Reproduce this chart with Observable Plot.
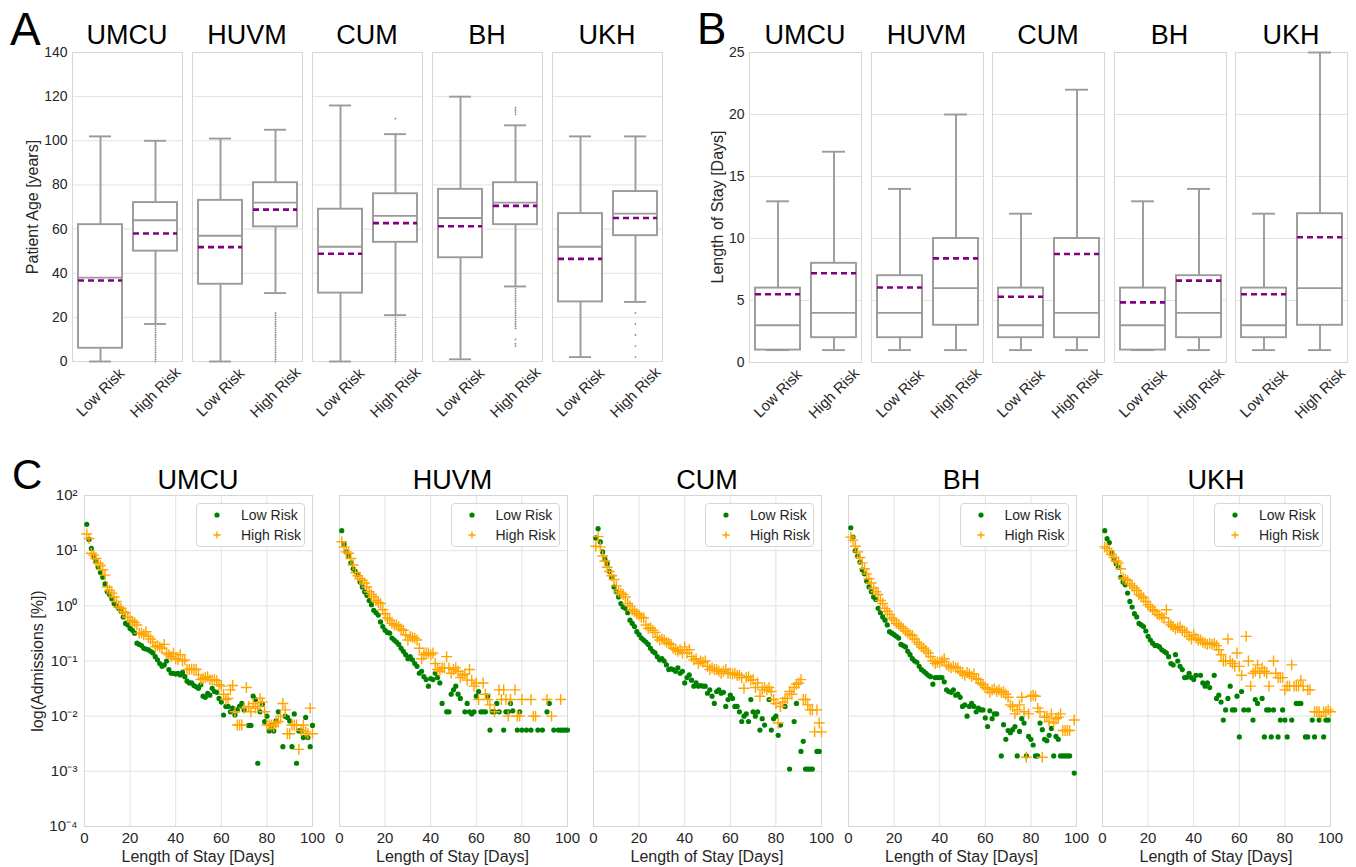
<!DOCTYPE html>
<html>
<head>
<meta charset="utf-8">
<script src="https://cdn.jsdelivr.net/npm/d3@7"></script>
<script src="https://cdn.jsdelivr.net/npm/@observablehq/plot@0.6"></script>
<style>
  html, body { margin: 0; padding: 0; background: #fff; }
  #fig { position: relative; width: 1356px; height: 867px; overflow: hidden; background: #fff;
         font-family: "Liberation Sans", Arial, Helvetica, sans-serif; }
  .lg { position: absolute; box-sizing: border-box; border: 1px solid #d6d6d6; border-radius: 4px;
        background: rgba(255,255,255,0.85); font-size: 14px; color: #262626; }
  .lg .row { position: absolute; left: 0; height: 18px; line-height: 18px; white-space: nowrap; }
  .lg svg { position: absolute; top: 0; }
</style>
</head>
<body>
<div id="fig"></div>
<script>
// ------------------------------------------------------------------ data
const sites = ["UMCU", "HUVM", "CUM", "BH", "UKH"];
const risks = ["Low Risk", "High Risk"];

// Panel A: Patient Age [years]; per site: [Low Risk, High Risk]
const ageWhiskerLow  = [[0, 17], [0, 31], [0, 21], [1, 34], [2, 27]];
const ageQ1          = [[6, 50], [35, 61], [31, 54], [47, 62], [27, 57]];
const ageMedian      = [[38, 64], [57, 72], [52, 66], [65, 72], [52, 67]];
const ageMean        = [[36.7, 58], [51.8, 68.8], [48.8, 62.7], [61.3, 70.5], [46.5, 65]];
const ageQ3          = [[62, 72], [73, 81], [69, 76], [78, 81], [67, 77]];
const ageWhiskerHigh = [[102, 100], [101, 105], [116, 103], [120, 107], [102, 102]];
// outliers of the High Risk group
const ageOutliersHigh = [
  [0, 1, 2, 3, 4, 5, 6, 7, 8, 9, 10, 11, 12, 13, 14, 15, 16],
  [0, 1, 2, 3, 4, 5, 6, 7, 8, 9, 10, 11, 12, 13, 14, 15, 16, 17, 18, 19, 20, 21, 22],
  [0, 1, 2, 3, 4, 5, 6, 7, 8, 9, 10, 11, 12, 13, 14, 15, 16, 17, 18, 19, 20, 110],
  [7, 8, 10, 15, 16, 17, 18, 19, 20, 21, 22, 23, 24, 25, 26, 27, 28, 29, 30, 31, 32, 33, 112, 113, 114, 115],
  [2, 7, 12, 17, 22]
];
const ageTicks = [0, 20, 40, 60, 80, 100, 120, 140];

// Panel B: Length of Stay [Days]; per site: [Low Risk, High Risk]
const losWhiskerLow  = [[1, 1], [1, 1], [1, 1], [1, 1], [1, 1]];
const losQ1          = [[1, 2], [2, 3], [2, 2], [1, 2], [2, 3]];
const losMedian      = [[3, 4], [4, 6], [3, 4], [3, 4], [3, 6]];
const losMean        = [[5.5, 7.2], [6.05, 8.4], [5.3, 8.75], [4.85, 6.6], [5.5, 10.1]];
const losQ3          = [[6, 8], [7, 10], [6, 10], [6, 7], [6, 12]];
const losWhiskerHigh = [[13, 17], [14, 20], [12, 22], [13, 14], [12, 25]];
const losTicks = [0, 5, 10, 15, 20, 25];

// Panel C: Admissions [%] by length of stay, day 1..100 (null = no point)
const admLowUMCU = [
  30, 16, 11, 7.7, 6.3, 5.0, 4.0, 3.3, 2.5, 1.8,
  1.6, 1.35, 1.1, 1.0, 0.9, 0.8, 0.63, 0.48, 0.45, 0.39,
  0.36, 0.32, 0.21, 0.2, 0.19, 0.17, 0.165, 0.16, 0.15, 0.14,
  0.12, 0.105, 0.09, 0.08, 0.085, 0.1, 0.07, 0.06, 0.06, 0.058,
  0.06, 0.056, 0.062, 0.052, 0.043, 0.04, 0.04, 0.036, 0.034, 0.032,
  0.037, 0.023, 0.022, 0.026, 0.024, 0.032, 0.028, 0.027, 0.021, 0.018,
  0.0105, 0.015, 0.015, 0.012, 0.014, 0.0105, 0.013, 0.015, 0.017, 0.013,
  null, 0.0068, 0.0068, 0.023, 0.02, 0.0014, 0.012, 0.0165, 0.008, 0.01,
  0.0054, 0.0068, 0.0054, 0.0082, 0.012, null, 0.0028, 0.01, 0.0095, 0.0082,
  0.0028, 0.011, 0.0014, 0.0054, 0.0054, 0.0041, 0.0095, 0.0041, 0.0028, 0.0068
];
const admHighUMCU = [
  20, 16.6, 9, 8.3, 7.2, 5.9, 5.4, 4.5, 3.6, 2.2,
  1.9, 1.7, 1.45, 1.2, 0.95, 0.9, 0.78, 0.74, 0.62, 0.55,
  0.52, 0.5, 0.45, 0.32, 0.32, 0.3, 0.34, 0.28, 0.25, 0.22,
  0.18, 0.19, 0.18, 0.17, 0.2, 0.14, 0.13, 0.12, 0.14, 0.11,
  0.105, 0.13, 0.1, 0.105, 0.07, 0.07, 0.072, 0.07, 0.071, 0.056,
  0.046, 0.048, 0.05, 0.052, 0.046, 0.045, 0.046, 0.044, 0.037, 0.035,
  0.025, 0.02, 0.021, 0.03, 0.036, 0.012, 0.0069, 0.0069, 0.0069, 0.014,
  0.033, 0.015, 0.012, 0.017, 0.014, 0.015, 0.021, 0.018, 0.012, 0.0069,
  0.0069, 0.0069, 0.0065, 0.0075, 0.008, 0.01, 0.017, 0.013, 0.0048, 0.0048,
  0.0069, 0.0069, 0.0069, 0.0025, 0.0055, 0.0069, 0.0052, 0.0048, 0.014, 0.0048
];
const admLowHUVM = [
  23, 13, 9.5, 8, 6, 4.7, 4.2, 3.7, 2.7, 2.2,
  1.8, 1.55, 1.25, 1.05, 0.83, 0.75, 0.68, 0.51, 0.42, 0.36,
  0.33, 0.32, 0.26, 0.24, 0.22, 0.2, 0.17, 0.15, 0.13, 0.11,
  0.12, 0.105, 0.09, 0.08, 0.06, 0.065, 0.052, 0.046, 0.035, 0.048,
  0.046, 0.06, 0.05, 0.04, 0.017, null, 0.012, 0.012, 0.025, 0.03,
  0.035, 0.025, 0.021, null, 0.012, 0.017, 0.012, 0.011, 0.012, 0.023,
  0.028, 0.012, 0.012, 0.012, 0.023, 0.0056, 0.012, 0.012, 0.017, 0.012,
  null, 0.0056, 0.012, 0.012, 0.017, 0.0125, null, 0.0056, 0.012, 0.0056,
  null, 0.0056, null, 0.0056, null, null, 0.0056, null, 0.0056, null,
  0.012, 0.017, null, 0.0056, null, 0.0056, 0.0056, 0.0056, 0.0056, 0.0056
];
const admHighHUVM = [
  14.5, 11.7, 9.5, 9, 7.2, 5.5, 4, 3.5, 3.1, 2.9,
  2.6, 2.2, 1.8, 1.6, 1.45, 1.25, 1.15, 1.1, 0.85, 0.72,
  0.6, 0.55, 0.48, 0.45, 0.45, 0.42, 0.38, 0.36, 0.3, 0.24,
  0.28, 0.27, 0.26, 0.24, 0.17, 0.11, 0.13, 0.14, 0.14, 0.13,
  0.14, 0.09, 0.07, 0.065, 0.075, 0.075, 0.12, 0.075, 0.06, 0.07,
  0.075, 0.065, 0.05, 0.055, 0.058, 0.045, 0.07, 0.045, 0.035, 0.04,
  0.02, null, 0.04, 0.025, 0.02, 0.016, null, 0.012, null, 0.03,
  0.02, 0.03, 0.02, 0.01, 0.02, null, 0.03, 0.01, 0.01, 0.02,
  null, null, null, 0.02, 0.01, 0.01, null, null, null, null,
  0.02, null, 0.01, null, null, null, 0.02, null, null, null
];
const admLowCUM = [
  17, 25, 14.4, 9.5, 7, 5.8, 4.2, 3.3, 2.2, 1.8,
  1.45, 1.1, 0.95, 0.9, 0.75, 0.55, 0.48, 0.42, 0.34, 0.3,
  0.26, 0.24, 0.22, 0.2, 0.17, 0.15, 0.14, 0.12, 0.105, 0.11,
  0.1, 0.085, 0.07, 0.072, 0.07, 0.065, 0.075, 0.06, 0.065, 0.04,
  0.05, 0.056, 0.045, 0.035, 0.04, 0.035, 0.036, 0.035, 0.035, 0.026,
  0.03, 0.023, 0.017, 0.028, 0.03, 0.026, 0.027, 0.015, 0.02, 0.024,
  0.021, 0.015, 0.015, 0.012, 0.008, 0.01, 0.011, 0.008, 0.02, 0.012,
  0.01, 0.012, 0.0056, 0.009, 0.0069, null, 0.02, 0.0056, 0.009, 0.01,
  0.0045, 0.0069, null, 0.015, null, 0.0011, null, 0.008, 0.017, null,
  0.0023, 0.0035, 0.0011, 0.0011, 0.0011, 0.0011, null, 0.0023, 0.0023, null
];
const admHighCUM = [
  12, 18, 11.7, 8, 6.5, 5, 4.2, 3.5, 3, 2.3,
  1.8, 1.7, 1.6, 1.45, 1.1, 1.0, 0.85, 0.78, 0.72, 0.68,
  0.62, 0.6, 0.45, 0.39, 0.4, 0.36, 0.33, 0.27, 0.24, 0.25,
  0.24, 0.22, 0.21, 0.2, 0.17, 0.16, 0.15, 0.16, 0.14, 0.18,
  0.14, 0.16, 0.12, 0.105, 0.11, 0.09, 0.1, 0.095, 0.1, 0.08,
  0.07, 0.075, 0.07, 0.07, 0.065, 0.06, 0.065, 0.07, 0.06, 0.06,
  0.058, 0.06, 0.055, 0.055, 0.05, 0.032, 0.05, 0.052, 0.045, 0.046,
  0.033, 0.04, 0.023, 0.03, 0.033, 0.03, 0.033, 0.028, 0.02, 0.017,
  0.0075, 0.015, 0.018, 0.021, 0.021, 0.028, 0.025, 0.033, 0.038, 0.04,
  0.046, 0.02, 0.02, 0.016, 0.013, 0.013, 0.0052, 0.013, 0.0075, 0.0052
];
const admLowBH = [
  26, 17.6, 10, 8, 6.2, 4.5, 3.8, 2.8, 2.2, 1.8,
  1.45, 1.3, 0.9, 0.75, 0.63, 0.55, 0.45, 0.34, 0.32, 0.3,
  0.28, 0.26, 0.2, 0.19, 0.18, 0.15, 0.13, 0.11, 0.1, 0.095,
  0.08, 0.07, 0.065, 0.06, 0.055, 0.052, 0.038, 0.05, 0.05, 0.05,
  0.05, 0.042, 0.03, 0.028, 0.027, 0.03, 0.024, 0.025, 0.022, 0.015,
  0.016, 0.01, 0.015, 0.017, 0.015, 0.012, 0.014, 0.013, 0.013, 0.0093,
  0.0065, 0.0125, 0.009, 0.011, 0.011, null, 0.0019, 0.007, 0.0038, 0.0055,
  0.005, 0.0057, 0.0065, 0.0019, 0.0053, 0.009, 0.0075, 0.0019, 0.0043, 0.0038,
  0.003, 0.0019, 0.0019, 0.0075, 0.0057, 0.0038, 0.0036, 0.0045, 0.006, 0.0019,
  0.0043, 0.0038, 0.0019, 0.0019, 0.0019, 0.0019, 0.0019, null, 0.00093, null
];
const admHighBH = [
  17.6, 15.5, 12, 9.5, 7.5, 6, 4.7, 3.8, 3.1, 2.6,
  2.1, 1.8, 1.6, 1.25, 1.1, 0.9, 0.8, 0.7, 0.6, 0.55,
  0.48, 0.45, 0.42, 0.39, 0.35, 0.32, 0.3, 0.29, 0.25, 0.22,
  0.2, 0.18, 0.17, 0.155, 0.14, 0.12, 0.1, 0.09, 0.095, 0.095,
  0.1, 0.11, 0.085, 0.08, 0.075, 0.08, 0.075, 0.075, 0.065, 0.06,
  0.055, 0.062, 0.058, 0.052, 0.058, 0.048, 0.046, 0.04, 0.037, 0.033,
  0.031, 0.027, 0.03, 0.031, 0.028, 0.03, 0.027, 0.028, 0.025, 0.022,
  0.016, 0.015, 0.011, 0.013, 0.016, 0.022, 0.012, 0.0018, 0.011, 0.023,
  0.024, 0.023, 0.014, 0.012, 0.0018, 0.0095, 0.01, 0.008, 0.011, 0.0075,
  0.009, 0.0095, 0.011, 0.0055, 0.0055, 0.0055, 0.0055, null, 0.0085, null
];
const admLowUKH = [
  23, 16.5, 14, 9, 7, 5.8, 5, 3.3, 2.7, 2.4,
  1.7, 1.2, 0.95, 0.72, 0.63, 0.48, 0.45, 0.42, 0.35, 0.28,
  0.24, 0.21, 0.19, 0.19, 0.18, 0.16, 0.15, 0.14, 0.12, 0.09,
  0.085, 0.13, 0.1, 0.08, 0.07, 0.05, 0.051, 0.06, 0.05, 0.046,
  0.055, null, 0.055, 0.04, 0.035, 0.04, 0.033, null, 0.055, 0.021,
  0.024, 0.018, 0.0085, 0.013, 0.021, 0.035, 0.013, 0.013, 0.023, 0.0042,
  0.028, 0.013, null, 0.013, null, 0.0085, 0.02, 0.017, null, 0.021,
  0.0042, 0.013, 0.013, 0.0042, 0.013, null, 0.0042, 0.0085, 0.013, 0.0085,
  0.0042, null, 0.0085, null, 0.017, 0.017, 0.017, null, 0.0042, 0.0042,
  null, 0.0085, 0.0042, null, 0.0085, null, 0.0042, 0.0085, 0.0085, null
];
const admHighUKH = [
  11.7, 11, 10, 8.5, 7.5, 6.5, 6, 4.7, 3.2, 3,
  2.9, 2.5, 2.3, 2.1, 1.9, 1.6, 1.5, 1.4, 1.2, 1.05,
  0.95, 0.85, 0.8, 0.7, 0.68, 0.62, 0.6, 0.85, 0.5, 0.45,
  0.42, 0.38, 0.4, 0.42, 0.36, 0.33, 0.33, 0.28, 0.25, 0.3,
  0.26, 0.24, 0.24, 0.22, 0.21, 0.2, 0.21, 0.2, 0.21, 0.19,
  0.16, 0.13, 0.1, 0.1, 0.25, 0.1, 0.09, 0.08, 0.14, 0.08,
  0.055, null, 0.28, 0.1, 0.035, 0.06, 0.065, 0.085, 0.06, 0.075,
  0.065, 0.06, 0.035, null, 0.1, 0.06, 0.05, 0.05, 0.05, 0.03,
  0.035, 0.035, 0.085, 0.035, 0.035, 0.035, 0.045, 0.035, null, 0.03,
  0.03, null, 0.012, 0.012, 0.012, 0.01, 0.012, 0.012, 0.013, 0.012
];
const admLow  = [admLowUMCU, admLowHUVM, admLowCUM, admLowBH, admLowUKH];
const admHigh = [admHighUMCU, admHighHUVM, admHighCUM, admHighBH, admHighUKH];
const dayTicks = [0, 20, 40, 60, 80, 100];
const admTicks = [1e-4, 1e-3, 1e-2, 1e-1, 1e0, 1e1, 1e2];

// ------------------------------------------------------------------ style
const FONT = '"Liberation Sans", Arial, Helvetica, sans-serif';
const TXT = "#262626";
const GRID = "#e2e2e2";
const FRAME = "#d6d6d6";
const BOX = "#9a9a9a";
const MEAN = "#800080";
const GREEN = "#008000";
const ORANGE = "#ffa500";
const fig = document.getElementById("fig");

function place(el, left, top) {
  el.style.position = "absolute";
  el.style.left = left + "px";
  el.style.top = top + "px";
  fig.appendChild(el);
}
function addText(txt, x, baseline, size, opts = {}) {
  const d = document.createElement("div");
  d.textContent = txt;
  Object.assign(d.style, {
    fontSize: size + "px", lineHeight: "1", whiteSpace: "nowrap",
    color: opts.color || "#000", transform: opts.align === "left" ? "none" : "translate(-50%, 0)"
  });
  place(d, x, baseline - 0.8465 * size);
}
function addYLabel(txt, cx, cy, size) {
  const d = document.createElement("div");
  d.textContent = txt;
  Object.assign(d.style, {
    fontSize: size + "px", lineHeight: "1", whiteSpace: "nowrap", color: TXT,
    transform: "translate(-50%, -50%) rotate(-90deg)"
  });
  place(d, cx, cy);
}
const plotStyle = {
  background: "transparent", overflow: "visible", fontFamily: FONT,
  fontSize: "14px", color: TXT
};

// ------------------------------------------------------------------ box panels
function boxFacet(i, p) {
  const rows = risks.map((r, j) => ({
    risk: r, lo: p.lo[i][j], q1: p.q1[i][j], med: p.med[i][j],
    mean: p.mean[i][j], q3: p.q3[i][j], hi: p.hi[i][j]
  }));
  const outl = p.out ? p.out[i].map(v => ({risk: risks[1], v})) : [];
  const marks = [
    Plot.gridY(p.ticks, {stroke: GRID, strokeOpacity: 1, strokeWidth: 1}),
    Plot.frame({stroke: FRAME, strokeWidth: 1}),
    Plot.ruleX(rows, {x: "risk", y1: "lo", y2: "q1", stroke: BOX, strokeWidth: 1.9}),
    Plot.ruleX(rows, {x: "risk", y1: "q3", y2: "hi", stroke: BOX, strokeWidth: 1.9}),
    Plot.tickY(rows, {x: "risk", y: "lo", stroke: BOX, strokeWidth: 1.9, insetLeft: 11, insetRight: 11}),
    Plot.tickY(rows, {x: "risk", y: "hi", stroke: BOX, strokeWidth: 1.9, insetLeft: 11, insetRight: 11}),
    Plot.barY(rows, {x: "risk", y1: "q1", y2: "q3", fill: "white", stroke: BOX, strokeWidth: 1.9}),
    Plot.tickY(rows, {x: "risk", y: "med", stroke: BOX, strokeWidth: 1.9}),
    Plot.tickY(rows, {x: "risk", y: "mean", stroke: MEAN, strokeWidth: 2.6, strokeDasharray: "6,4"}),
    Plot.dot(outl, {x: "risk", y: "v", r: 0.9, fill: "#8a8a8a", stroke: null}),
    Plot.axisX(risks, {tickRotate: -45, textAnchor: "middle", lineAnchor: "middle",
      tickSize: 0, tickPadding: 31, fontSize: 15, label: null})
  ];
  if (i === 0) marks.push(Plot.axisY(p.ticks, {tickSize: 0, tickPadding: 5, fontSize: 14, label: null}));
  const svg = Plot.plot({
    width: p.w, height: p.h, marginTop: 0, marginRight: 0, marginBottom: 0, marginLeft: 0,
    style: plotStyle,
    x: {domain: risks, paddingInner: 0.2, paddingOuter: 0.1},
    y: {domain: p.domain, ...(i === 0 ? {} : {axis: null})},
    marks
  });
  place(svg, p.left + i * p.step, p.top);
  addText(sites[i], p.left + i * p.step + p.w / 2, p.top - 7, 27);
}

const panelA = {lo: ageWhiskerLow, q1: ageQ1, med: ageMedian, mean: ageMean, q3: ageQ3, hi: ageWhiskerHigh,
  out: ageOutliersHigh, domain: [0, 140], ticks: ageTicks, left: 72, step: 120, top: 52, w: 110, h: 309};
const panelB = {lo: losWhiskerLow, q1: losQ1, med: losMedian, mean: losMean, q3: losQ3, hi: losWhiskerHigh,
  out: null, domain: [0, 25], ticks: losTicks, left: 749, step: 121.5, top: 52, w: 112, h: 310};
sites.forEach((s, i) => boxFacet(i, panelA));
sites.forEach((s, i) => boxFacet(i, panelB));
addText("A", 10, 45, 46, {align: "left"});
addText("B", 697, 44, 44, {align: "left"});
addYLabel("Patient Age [years]", 33, 207, 16);
addYLabel("Length of Stay [Days]", 718, 207, 16);

// ------------------------------------------------------------------ scatter panel C
const SUP = {"-": "\u207B", "0": "\u2070", "1": "\u00B9", "2": "\u00B2", "3": "\u00B3", "4": "\u2074"};
const powFmt = d => "10" + String(Math.round(Math.log10(d))).replace(/[-0-9]/g, c => SUP[c]);
const C = {left: 84, step: 254.5, top: 495, w: 228, h: 331};

function legendBox(x, y) {
  const d = document.createElement("div");
  d.className = "lg";
  d.style.width = "109px";
  d.style.height = "44px";
  d.innerHTML =
    '<div class="row" style="top:2px"><svg width="20" height="18" style="left:11px"><circle cx="9" cy="9" r="2.6" fill="' + GREEN + '"/></svg>' +
    '<span style="position:absolute;left:44px">' + risks[0] + '</span></div>' +
    '<div class="row" style="top:22px"><svg width="20" height="18" style="left:11px"><path d="M5.4,9H12.6M9,5.4V12.6" stroke="' + ORANGE + '" stroke-width="1.4" fill="none"/></svg>' +
    '<span style="position:absolute;left:44px">' + risks[1] + '</span></div>';
  place(d, x, y);
}

sites.forEach((s, i) => {
  const low = admLow[i].map((v, k) => ({day: k + 1, v})).filter(d => d.v != null);
  const high = admHigh[i].map((v, k) => ({day: k + 1, v})).filter(d => d.v != null);
  const marks = [
    Plot.gridX(dayTicks, {stroke: GRID, strokeOpacity: 1, strokeWidth: 1}),
    Plot.gridY(admTicks, {stroke: GRID, strokeOpacity: 1, strokeWidth: 1}),
    Plot.frame({stroke: FRAME, strokeWidth: 1}),
    Plot.dot(low, {x: "day", y: "v", r: 2.6, fill: GREEN, stroke: null}),
    Plot.dot(high, {x: "day", y: "v", r: 3.6, symbol: "plus", stroke: ORANGE, strokeWidth: 1.4, fill: "none"}),
    Plot.axisX(dayTicks, {tickSize: 0, tickPadding: 6, fontSize: 15, label: null})
  ];
  if (i === 0) marks.push(Plot.axisY(admTicks, {tickSize: 0, tickPadding: 7, tickFormat: powFmt, fontSize: 15, label: null}));
  const svg = Plot.plot({
    width: C.w, height: C.h, marginTop: 0, marginRight: 0, marginBottom: 0, marginLeft: 0,
    style: plotStyle,
    x: {domain: [0, 100]},
    y: {type: "log", domain: [1e-4, 1e2], ...(i === 0 ? {} : {axis: null})},
    marks
  });
  const left = C.left + i * C.step;
  place(svg, left, C.top);
  addText(s, left + C.w / 2, 490, 27);
  addText("Length of Stay [Days]", left + C.w / 2, 863, 16, {color: TXT});
  legendBox(left + C.w - 7 - 109, 503);
});
addText("C", 12, 490, 42, {align: "left"});
addYLabel("log(Admissions [%])", 38, 661, 16);
</script>
</body>
</html>
